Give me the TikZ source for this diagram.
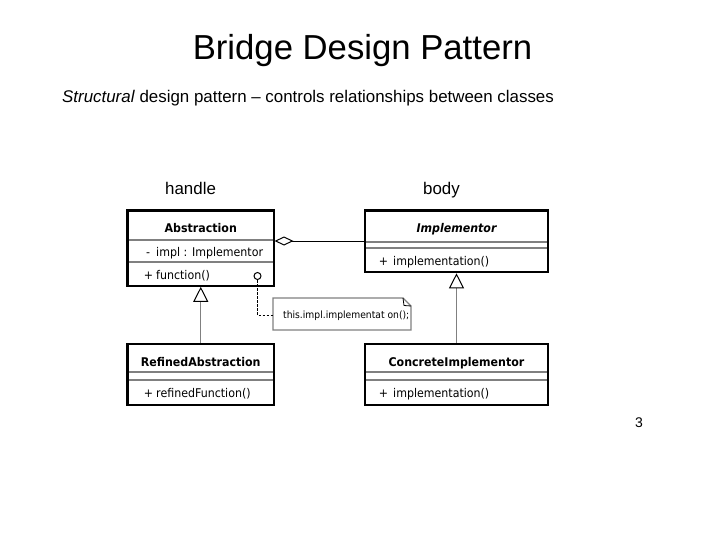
\documentclass[tikz,border=0pt]{standalone}
\usepackage{fontspec}
\setmainfont{Liberation Sans}
\newfontfamily\umlfont[FakeStretch=0.92]{DejaVu Sans}
\usetikzlibrary{arrows.meta,calc}
\definecolor{divgray}{RGB}{128,128,128}
\begin{document}
\begin{tikzpicture}[x=1pt,y=-1pt,
  classbox/.style={draw=black,line width=2.6pt,fill=white,inner sep=0pt},
  divider/.style={draw=divgray,line width=1.4pt},
  member/.style={anchor=base west,inner sep=0pt,font=\umlfont\fontsize{12}{14}\selectfont},
  sign/.style={anchor=base,inner sep=0pt,font=\umlfont\fontsize{12}{14}\selectfont},
  cname/.style={anchor=base,inner sep=0pt,font=\umlfont\bfseries\fontsize{12}{14}\selectfont},
  gen/.style={draw=divgray,line width=1.3pt,-{Triangle[open,length=15pt,width=15pt,color=black,line width=1pt]}},
  plain/.style={anchor=base west,inner sep=0pt}]
\useasboundingbox (0,0) rectangle (720,540);
\fill[white] (0,0) rectangle (720,540);
% texts
\node[anchor=base,inner sep=0pt,font=\fontsize{34.7}{40}\selectfont] (title) at (362.5,60) {Bridge Design Pattern};
\node[plain,font=\fontsize{16.9}{20}\selectfont] (sub) at (62,103) {\textit{Structural} design pattern – controls relationships between classes};
\node[plain,font=\fontsize{16.9}{20}\selectfont] (handle) at (165,195) {handle};
\node[plain,font=\fontsize{16.9}{20}\selectfont] (body) at (423,195) {body};
\node[plain,font=\fontsize{14}{17}\selectfont] (page) at (635,427) {3};
% class boxes
\node[classbox,minimum width=146.5pt,minimum height=75.5pt] (abs) at (200.75,248.25) {};
\node[classbox,minimum width=183pt,minimum height=61.5pt] (impl) at (456.5,241.25) {};
\node[classbox,minimum width=146.5pt,minimum height=61pt] (refa) at (200.75,374.5) {};
\node[classbox,minimum width=183pt,minimum height=61pt] (conc) at (456.5,374.5) {};
% dividers
\draw[divider] (128.8,240) -- (272.7,240);
\draw[divider] (128.8,262) -- (272.7,262);
\draw[divider] (366.3,242) -- (546.7,242);
\draw[divider] (366.3,248) -- (546.7,248);
\draw[divider] (128.8,372) -- (272.7,372);
\draw[divider] (128.8,380) -- (272.7,380);
\draw[divider] (366.3,372) -- (546.7,372);
\draw[divider] (366.3,380) -- (546.7,380);
% class texts
\node[cname] (absn) at (200.75,233) {Abstraction};
\node[sign] (s1) at (148,256) {-};
\node[member] (m1) at (156,256) {impl : Implementor};
\node[sign] (s2) at (148.5,279) {+};
\node[member] (m2) at (156,279) {function()};
\node[cname,font=\umlfont\bfseries\itshape\fontsize{12}{14}\selectfont] (impln) at (456.5,233) {Implementor};
\node[sign] (s3) at (383.5,265) {+};
\node[member] (m3) at (393,265) {implementation()};
\node[cname] (refan) at (200.75,366) {RefinedAbstraction};
\node[sign] (s4) at (148.5,397) {+};
\node[member] (m4) at (156,397) {refinedFunction()};
\node[cname] (concn) at (456.5,366) {ConcreteImplementor};
\node[sign] (s5) at (383.5,397) {+};
\node[member] (m5) at (393,397) {implementation()};
% note
\draw[draw=divgray,line width=1.2pt,fill=white] (273,298) -- (403,298) -- (411,306) -- (411,330) -- (273,330) -- cycle;
\draw[draw=black,line width=0.8pt] (403,298) -- (404,305.5) -- (411,306);
\node[plain,font=\umlfont\fontsize{10}{12}\selectfont] (note) at (283,318.5) {this.impl.implementat on();};
\coordinate (notew) at (273,315);
% circle + dashed
\node[draw=black,circle,line width=1pt,minimum size=7pt,inner sep=0pt,fill=white] (port) at (257.5,276) {};
\coordinate (bend) at (257.5,315);
\draw[black,line width=0.9pt,dash pattern=on 2.5pt off 1.5pt] (port.south) -- (bend) -- (notew);
% aggregation
\coordinate (aggA) at (274.5,241);
\coordinate (aggB) at (364,241);
\draw[black,line width=1pt,{Diamond[open,length=19pt,width=9pt,fill=white]}-] (aggA) -- (aggB);
% generalizations
\draw[gen] (refa.north) -- ($(abs.south)+(0,-0.5)$);
\draw[gen] (conc.north) -- ($(impl.south)+(0,0)$);
\end{tikzpicture}
\end{document}
